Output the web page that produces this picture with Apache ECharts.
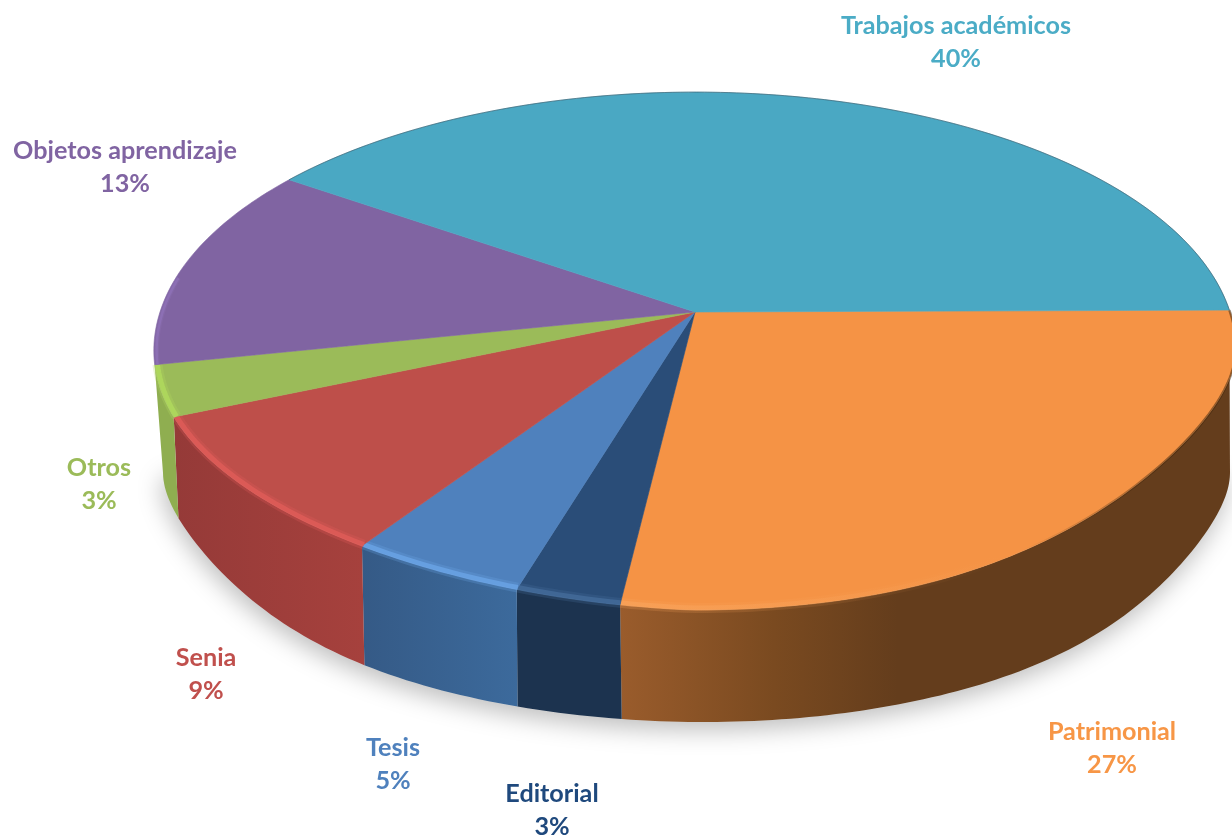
<!DOCTYPE html>
<html>
<head>
<meta charset="utf-8">
<style>html,body{margin:0;padding:0;background:#fff}#c{width:1232px;height:835px}</style>
<script src="https://cdn.jsdelivr.net/npm/echarts@6/dist/echarts.min.js"></script>
</head>
<body>
<div id="c"></div>
<script>
// --- data (clockwise from the right-hand edge of the pie) ---
const categories = ['Patrimonial', 'Editorial', 'Tesis', 'Senia', 'Otros', 'Objetos aprendizaje', 'Trabajos académicos'];
const values = [27.02, 2.7, 4.55, 9.25, 3.3, 12.9, 40.28];
const percentLabels = ['27%', '3%', '5%', '9%', '3%', '13%', '40%'];

// --- styles and layout ---
const topColors = ['#F59345', '#2A4D78', '#4F81BD', '#BE4F4A', '#9BBB59', '#8064A2', '#4AA8C3'];
const textColors = ['#F79646', '#1F497D', '#4F81BD', '#C0504D', '#9BBB59', '#8064A2', '#4BACC6'];
const rimColors = ['#F9A45C', '#466E9C', '#6CA6E8', '#E25D5A', '#B2DC5E', '#8F72B8', null];
const wallStops = [
  [[0, '#9A5C2C'], [0.25, '#7A4A20'], [0.45, '#643D1C'], [1, '#643D1C']],
  [[0, '#1C334F'], [1, '#1C334F']],
  [[0, '#3C6A9C'], [1, '#355A86']],
  [[0, '#A6413D'], [1, '#953A38']],
  [[0, '#8FAE50'], [1, '#8FAE50']],
  null, null
];
const labelCentres = [[1112, 748.5], [552, 810.5], [393, 764.5], [206, 674.5], [99, 484.5], [125, 167.5], [956, 42.5]];
const PIE = { cx: 695, cy: 312, a: 535, b: 253, k: 0.1506 };
const BASE = { cx: 705, cy: 472, aLeft: 542, aRight: 525, b: 250 };
const BASE_TWIST = [[0, 0], [97, 2], [106, 3.6], [123, 6], [156, 10], [168.4, 11.6]];
const START_ANGLE = 0.43;   // degrees the first slice starts above the horizontal
const WALL_LIMIT = 168.4 + START_ANGLE; // degrees past which the side wall is out of sight

const total = values.reduce((s, v) => s + v, 0);
let running = 0;
const sliceData = values.map((v, i) => {
  const row = [1, running, running + v, i];
  running += v;
  return row;
});

// the polar axis turns a value into a direction; the tilt is applied on top of it
const DEG_PER_UNIT = 360 / total;
function unitAt(api, value) {
  const o = api.coord([0, 0]);
  const p = api.coord([1, value]);
  return [(p[0] - o[0]) / 100, (p[1] - o[1]) / 100];
}
function rimPoint(u) {
  const w = 1 - PIE.k * u[1];
  let y = PIE.cy + PIE.b * u[1] / w;
  const x = PIE.cx + PIE.a * u[0] / w;
  if (u[1] > 0) {
    y -= u[0] > 0 ? 95 * Math.pow(u[1], 1.5) * Math.pow(u[0], 4) : 24 * u[1] * u[1] * -u[0];
  }
  return [x, y];
}
function twist(t) {
  for (let i = 1; i < BASE_TWIST.length; i++) {
    const a = BASE_TWIST[i - 1], b = BASE_TWIST[i];
    if (t <= b[0]) return a[1] + (b[1] - a[1]) * (t - a[0]) / (b[0] - a[0]);
  }
  return BASE_TWIST[BASE_TWIST.length - 1][1];
}
function basePoint(u) {
  let t = Math.atan2(u[1], u[0]) * 180 / Math.PI;
  if (t < 0) t = t < -90 ? t + 360 : 0;
  let p = t + twist(t);
  if (p > 180) p = 180;
  const r = p * Math.PI / 180, c = Math.cos(r), s = Math.sin(r);
  const y = BASE.cy + BASE.b * s - 70 * s * Math.pow(c, 8);
  return [BASE.cx + (c < 0 ? BASE.aLeft : BASE.aRight) * c, y];
}
function arcUnits(api, from, to) {
  const n = Math.max(2, Math.ceil((to - from) * DEG_PER_UNIT));
  const out = [];
  for (let i = 0; i <= n; i++) out.push(unitAt(api, from + (to - from) * i / n));
  return out;
}
const wallEnd = WALL_LIMIT / DEG_PER_UNIT;

function renderWall(params, api) {
  const from = api.value(1), idx = api.value(3);
  const to = Math.min(api.value(2), wallEnd);
  const children = [];
  if (params.dataIndex === 0) {
    const all = arcUnits(api, 0, wallEnd).map(basePoint);
    all.push([PIE.cx, PIE.cy]);
    children.push({
      type: 'polygon', shape: { points: all },
      style: { fill: '#dddddd', shadowBlur: 24, shadowColor: 'rgba(0,0,0,0.26)', shadowOffsetY: 8, shadowOffsetX: -2 }
    });
  }
  if (from < wallEnd && wallStops[idx]) {
    const us = arcUnits(api, from, to);
    const top = us.map(rimPoint), bot = us.map(basePoint).reverse();
    const xs = top.concat(bot).map(p => p[0]);
    const minX = Math.min.apply(null, xs), maxX = Math.max.apply(null, xs);
    const fill = {
      type: 'linear', x: idx === 0 ? minX : maxX, y: 0, x2: idx === 0 ? maxX : minX, y2: 0, global: true,
      colorStops: wallStops[idx].map(s => ({ offset: s[0], color: s[1] }))
    };
    children.push({ type: 'polygon', shape: { points: top.concat(bot) }, style: { fill: fill, stroke: null } });
  }
  return { type: 'group', children: children };
}

function renderTop(params, api) {
  const from = api.value(1), to = api.value(2), idx = api.value(3);
  const us = arcUnits(api, from, to);
  const rim = us.map(rimPoint);
  const children = [{
    type: 'polygon',
    shape: { points: [rimPoint([0, 0])].concat(rim) },
    style: { fill: topColors[idx], stroke: topColors[idx], lineWidth: 0.6 }
  }];
  if (rimColors[idx]) {
    // soft highlight along the visible front edge, just inside the rim
    const hiFrom = idx === 0 ? from + (to - from) * 0.62 : from;
    const hiTo = idx === 5 ? Math.min(to, from + 5.5) : to;
    const hi = arcUnits(api, hiFrom, hiTo).map(u => rimPoint([u[0] * 0.995, u[1] * 0.995]));
    let stroke = rimColors[idx];
    if (idx === 0) {
      stroke = { type: 'linear', x: hi[0][0], y: 0, x2: hi[hi.length - 1][0], y2: 0, global: true,
        colorStops: [{ offset: 0, color: 'rgba(249,164,92,0)' }, { offset: 1, color: 'rgba(249,164,92,0.9)' }] };
    }
    const wide = idx === 5 ? 5 : 10, thin = idx === 5 ? 2.5 : 5;
    children.push({ type: 'polyline', shape: { points: hi }, style: { fill: null, stroke: stroke, lineWidth: wide, opacity: 0.25 } });
    children.push({ type: 'polyline', shape: { points: hi }, style: { fill: null, stroke: stroke, lineWidth: thin, opacity: 0.75 } });
  }
  if (idx === 6) {
    children.push({ type: 'polyline', shape: { points: rim }, style: { fill: null, stroke: 'rgba(50,60,70,0.45)', lineWidth: 1 } });
  }
  if (idx === 0) {
    // dark contact shadow along the right shoulder of the orange slice, fading towards the front
    const edge = arcUnits(api, from, from + (to - from) * 0.6).map(rimPoint);
    const fade = { type: 'linear', x: edge[edge.length - 1][0], y: 0, x2: edge[0][0] - 60, y2: 0, global: true,
      colorStops: [{ offset: 0, color: 'rgba(60,35,10,0)' }, { offset: 1, color: 'rgba(60,35,10,0.5)' }] };
    children.push({ type: 'polyline', shape: { points: edge }, style: { fill: null, stroke: fade, lineWidth: 2.5 } });
  }
  return { type: 'group', children: children };
}

function renderLabel(params, api) {
  const idx = api.value(3);
  const c = labelCentres[idx];
  return {
    type: 'text', x: c[0], y: c[1],
    style: {
      text: categories[idx] + '\n' + percentLabels[idx],
      fill: textColors[idx], font: 'bold 25.2px Lato, Carlito, sans-serif',
      lineHeight: 33, align: 'center', verticalAlign: 'middle'
    }
  };
}

const chart = echarts.init(document.getElementById('c'), null, { renderer: 'canvas', width: 1232, height: 835 });
const common = { type: 'custom', coordinateSystem: 'polar', data: sliceData, silent: true, animation: false, clip: false,
  dimensions: ['r', 'from', 'to', 'index'], encode: { radius: 0, angle: 1 } };
chart.setOption({
  backgroundColor: '#ffffff',
  animation: false,
  polar: { center: [400, 400], radius: 100 },
  radiusAxis: { min: 0, max: 1, show: false },
  angleAxis: { min: 0, max: total, startAngle: START_ANGLE, clockwise: true, show: false },
  series: [
    Object.assign({}, common, { name: 'walls', renderItem: renderWall }),
    Object.assign({}, common, { name: 'tops', renderItem: renderTop }),
    Object.assign({}, common, { name: 'labels', renderItem: renderLabel })
  ]
});
</script>
</body>
</html>
